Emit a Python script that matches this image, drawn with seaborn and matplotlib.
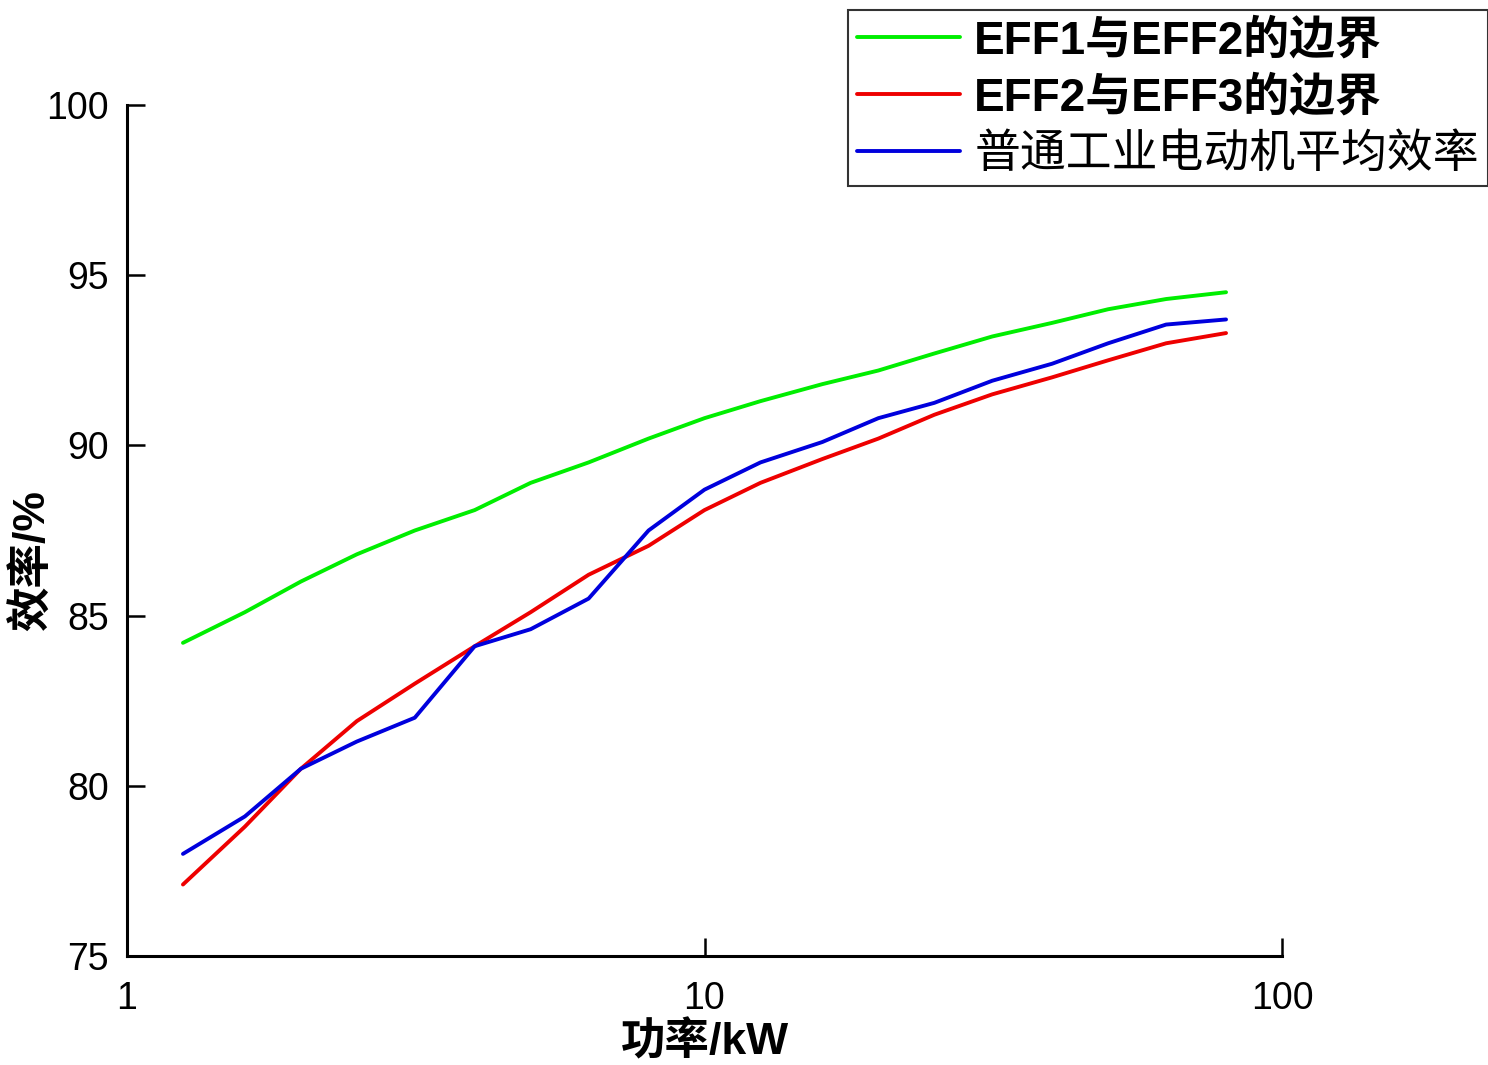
import numpy as np
import pandas as pd
import matplotlib
matplotlib.use("Agg")
import matplotlib.pyplot as plt
import seaborn as sns

# potenze (kW), serie R10
potenza = [1.25, 1.6, 2, 2.5, 3.15, 4, 5, 6.3, 8, 10, 12.5, 16, 20, 25, 31.5, 40, 50, 63, 80]

eff1_eff2 = [84.2, 85.1, 86.0, 86.8, 87.5, 88.1, 88.9, 89.5, 90.2, 90.8,
             91.3, 91.8, 92.2, 92.7, 93.2, 93.6, 94.0, 94.3, 94.5]
eff2_eff3 = [77.1, 78.8, 80.5, 81.9, 83.0, 84.1, 85.1, 86.2, 87.05, 88.1,
             88.9, 89.6, 90.2, 90.9, 91.5, 92.0, 92.5, 93.0, 93.3]
media = [78.0, 79.1, 80.5, 81.3, 82.0, 84.1, 84.6, 85.5, 87.5, 88.7,
         89.5, 90.1, 90.8, 91.25, 91.9, 92.4, 93.0, 93.55, 93.7]

nomi = ["EFF1与EFF2的边界", "EFF2与EFF3的边界", "普通工业电动机平均效率"]
colori = ["#00ee00", "#ee0000", "#0000dd"]

y_ticks = [75, 80, 85, 90, 95, 100]
x_ticks = [1, 10, 100]

df = pd.DataFrame({
    "potenza": potenza * 3,
    "efficienza": eff1_eff2 + eff2_eff3 + media,
    "serie": [nomi[0]] * len(potenza) + [nomi[1]] * len(potenza) + [nomi[2]] * len(potenza),
})

sns.set_style("ticks")
plt.rcParams['font.family'] = ['Liberation Sans', 'Noto Sans CJK SC', 'DejaVu Sans']
plt.rcParams['text.color'] = 'black'
plt.rcParams['axes.labelcolor'] = 'black'

fig = plt.figure(figsize=(14.88, 10.65), dpi=100)
ax = fig.add_axes([127 / 1488, 1 - 956 / 1065, (1282 - 127) / 1488, (956 - 105) / 1065])

sns.lineplot(data=df, x="potenza", y="efficienza", hue="serie", hue_order=nomi,
             palette=colori, linewidth=2.8, ax=ax, legend=True)

ax.set_xscale("log")
ax.set_xlim(1, 100)
ax.set_ylim(75, 100)
ax.set_xticks(x_ticks)
ax.set_xticklabels([str(t) for t in x_ticks])
ax.minorticks_off()
ax.set_yticks(y_ticks)
ax.set_yticklabels([str(t) for t in y_ticks])

for s in ["top", "right"]:
    ax.spines[s].set_visible(False)
for s in ["left", "bottom"]:
    ax.spines[s].set_linewidth(2.2)
    ax.spines[s].set_color("black")

ax.tick_params(axis="both", direction="in", length=13, width=1.8, labelsize=27,
               colors="black")
ax.tick_params(axis="x", pad=18)
ax.tick_params(axis="y", pad=13)

ax.set_xlabel("功率/kW", fontsize=32, fontweight="bold",
              family=['Liberation Sans', 'Noto Sans CJK SC'], labelpad=3)
ax.set_ylabel("效率/%", fontsize=32, fontweight="bold",
              family=['Liberation Sans', 'Noto Sans CJK SC'])
ax.yaxis.set_label_coords(-0.063, 0.465)

ax.get_legend().remove()
leg = fig.legend(*ax.get_legend_handles_labels(), loc="upper right",
                 bbox_to_anchor=(1.0, 1 - 10 / 1065), frameon=True, fancybox=False,
                 prop={'size': 33, 'weight': 'bold', 'family': ['Liberation Sans', 'Noto Sans CJK SC']},
                 handlelength=2.25, handletextpad=0.3, labelspacing=0.28,
                 borderpad=0.2, borderaxespad=0)
leg.get_frame().set_edgecolor("black")
leg.get_frame().set_linewidth(1.5)
for l in leg.get_lines():
    l.set_linewidth(2.8)
leg.get_texts()[2].set_fontweight("normal")

fig.savefig("out.png", dpi=100)
